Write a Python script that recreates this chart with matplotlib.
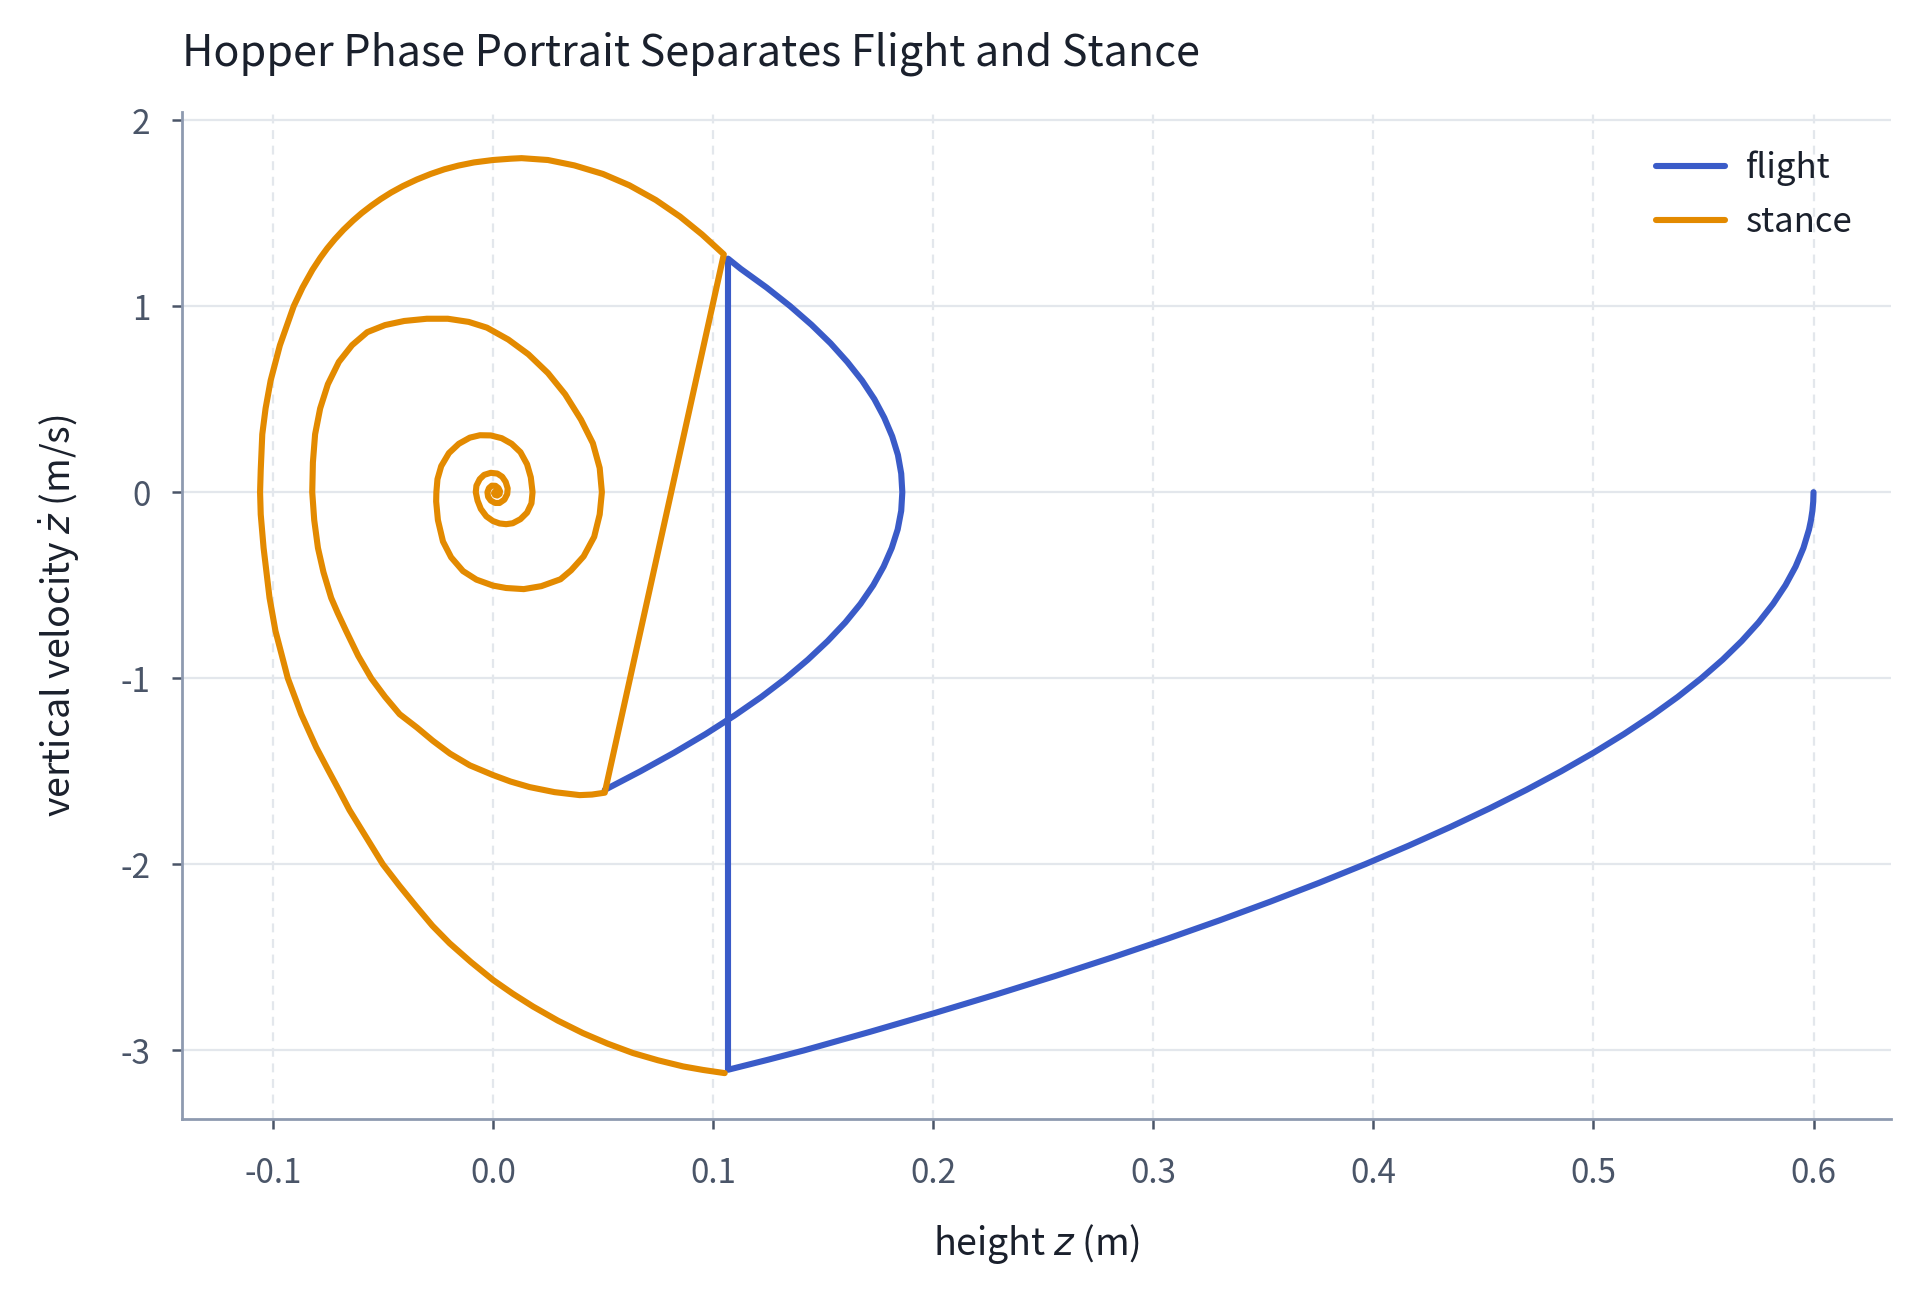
import matplotlib
matplotlib.use("Agg")
import matplotlib.pyplot as plt

# flight: drop from 0.6 m to touchdown, then the hop after liftoff
flight_z = [0.6000, 0.59987, 0.59949, 0.59885, 0.59796, 0.59541, 0.59185, 0.58726,
            0.58165, 0.57503, 0.56738, 0.55872, 0.54903, 0.53833, 0.52661, 0.51386,
            0.50010, 0.48532, 0.46952, 0.45270, 0.43486, 0.41600, 0.39613, 0.37523,
            0.35331, 0.33038, 0.30642, 0.28145, 0.25546, 0.22844, 0.20041, 0.17136,
            0.14128, 0.1250, 0.1068,
            0.1068, 0.1126, 0.1243, 0.1350, 0.1447, 0.1534, 0.1610, 0.1677, 0.1733,
            0.1778, 0.1814, 0.1840, 0.1855, 0.1860, 0.1855, 0.1839, 0.1812, 0.1775,
            0.1728, 0.1670, 0.1601, 0.1521, 0.1431, 0.1331, 0.1220, 0.1098, 0.0966,
            0.0823, 0.0670, 0.0508]
flight_v = [0.0, -0.05, -0.1, -0.15, -0.2, -0.3, -0.4, -0.5,
            -0.6, -0.7, -0.8, -0.9, -1.0, -1.1, -1.2, -1.3,
            -1.4, -1.5, -1.6, -1.7, -1.8, -1.9, -2.0, -2.1,
            -2.2, -2.3, -2.4, -2.5, -2.6, -2.7, -2.8, -2.9,
            -3.0, -3.05, -3.104,
            1.255, 1.2, 1.1, 1.0, 0.9, 0.8, 0.7, 0.6, 0.5,
            0.4, 0.3, 0.2, 0.1, 0.0, -0.1, -0.2, -0.3, -0.4,
            -0.5, -0.6, -0.7, -0.8, -0.9, -1.0, -1.1, -1.2, -1.3,
            -1.4, -1.5, -1.6]

# stance: first compression (outer loop), jump, second compression settling to rest
stance_z = [0.1053, 0.0955, 0.0864, 0.0750, 0.0636, 0.0520, 0.0409, 0.0295, 0.0182,
            0.0090, 0.0, -0.0100, -0.0197, -0.0275, -0.0348, -0.0425, -0.0500,
            -0.0578, -0.0652, -0.0700, -0.0750, -0.0803, -0.0871, -0.0932, -0.0988,
            -0.1015, -0.1042, -0.1055, -0.1058,
            -0.1055, -0.1048, -0.1033, -0.1010, -0.0968, -0.0905, -0.0865, -0.0820,
            -0.0784, -0.0753, -0.0718, -0.0679, -0.0635, -0.0596, -0.0552, -0.0510,
            -0.0463, -0.0409, -0.0346, -0.0283, -0.0221, -0.0157, -0.0086, 0.0,
            0.0080, 0.0130,
            0.0250, 0.0370, 0.0500, 0.0620, 0.0740, 0.0850, 0.0950, 0.1049,
            0.0508, 0.0450, 0.0394, 0.0280, 0.0167, 0.0080, 0.0, -0.0105, -0.0195,
            -0.0273, -0.0345, -0.0424, -0.0490, -0.0553, -0.0612, -0.0667, -0.0705,
            -0.0735, -0.0770, -0.0795, -0.0812, -0.0821,
            -0.0818, -0.0808, -0.0785, -0.0750, -0.0700, -0.0640, -0.0571, -0.0490,
            -0.0403, -0.0300, -0.0205, -0.0110, -0.0027, 0.0070, 0.0161, 0.0250,
            0.0328, 0.0400, 0.0454, 0.0485, 0.0495,
            0.0485, 0.0460, 0.0412, 0.0355, 0.0307, 0.0220, 0.0140, 0.0060, 0.0,
            -0.0075, -0.0136, -0.0190, -0.0227, -0.0250, -0.0258, -0.0257,
            -0.0252, -0.0235, -0.0200, -0.0155, -0.0105, -0.0059, -0.0010, 0.0040,
            0.0085, 0.0125, 0.0155, 0.0172, 0.0180,
            0.0175, 0.0155, 0.0125, 0.0090, 0.0060, 0.0030, 0.0, -0.0030, -0.0055,
            -0.0070, -0.0078,
            -0.0075, -0.0060, -0.0040, -0.0010, 0.0020, 0.0042, 0.0058, 0.0067,
            0.0065, 0.0052, 0.0030, 0.0010, -0.0010, -0.0022, -0.0025,
            -0.0018, -0.0005, 0.0012, 0.0025, 0.0032, 0.0030, 0.0020, 0.0010,
            0.0005, 0.0010, 0.0018]
stance_v = [-3.122, -3.105, -3.086, -3.053, -3.014, -2.963, -2.907, -2.84, -2.764,
            -2.695, -2.621, -2.525, -2.424, -2.33, -2.227, -2.115, -2.0,
            -1.85, -1.708, -1.60, -1.49, -1.371, -1.193, -1.0, -0.746,
            -0.568, -0.30, -0.12, 0.0,
            0.12, 0.311, 0.45, 0.6, 0.789, 1.0, 1.1, 1.195,
            1.26, 1.31, 1.36, 1.41, 1.46, 1.5, 1.54, 1.575,
            1.61, 1.645, 1.68, 1.71, 1.735, 1.755, 1.772, 1.785,
            1.792, 1.795,
            1.785, 1.756, 1.71, 1.649, 1.57, 1.481, 1.385, 1.278,
            -1.615, -1.625, -1.628, -1.612, -1.585, -1.555, -1.52, -1.468, -1.405,
            -1.336, -1.265, -1.193, -1.10, -1.0, -0.88, -0.746, -0.65,
            -0.568, -0.43, -0.30, -0.15, 0.0,
            0.16, 0.311, 0.45, 0.58, 0.70, 0.79, 0.86, 0.898,
            0.92, 0.932, 0.932, 0.915, 0.884, 0.82, 0.741, 0.64,
            0.526, 0.39, 0.263, 0.13, 0.0,
            -0.12, -0.24, -0.345, -0.42, -0.468, -0.505, -0.521, -0.515, -0.502,
            -0.47, -0.424, -0.35, -0.265, -0.15, -0.05, 0.0,
            0.07, 0.14, 0.21, 0.26, 0.293, 0.306, 0.305, 0.29,
            0.26, 0.215, 0.15, 0.08, 0.0,
            -0.06, -0.11, -0.145, -0.167, -0.172, -0.168, -0.155, -0.13, -0.09,
            -0.045, 0.0,
            0.035, 0.07, 0.093, 0.104, 0.100, 0.083, 0.055, 0.02,
            -0.01, -0.04, -0.058, -0.058, -0.045, -0.025, 0.0,
            0.022, 0.035, 0.034, 0.022, 0.005, -0.01, -0.018, -0.015,
            -0.005, 0.003, 0.0]

plt.rcParams["font.family"] = ["Noto Sans CJK KR", "DejaVu Sans"]
plt.rcParams["axes.unicode_minus"] = False

blue = "#3a5bc8"
orange = "#e38a00"
text_col = "#1a202c"
tick_col = "#4a5568"
spine_col = "#8e9ab0"

fig, ax = plt.subplots(figsize=(9.6, 6.46), dpi=200)
fig.subplots_adjust(left=0.095, right=0.985, bottom=0.134, top=0.913)

ax.plot(flight_z, flight_v, color=blue, lw=2.2, label="flight",
        solid_capstyle="round", solid_joinstyle="round")
ax.plot(stance_z, stance_v, color=orange, lw=2.2, label="stance",
        solid_capstyle="round", solid_joinstyle="round")

ax.grid(axis="y", color="#e3e7ec", lw=0.8, ls="-")
ax.grid(axis="x", color="#e3e7ec", lw=0.8, ls=(0, (4, 3)))
ax.set_axisbelow(True)

for s in ["top", "right"]:
    ax.spines[s].set_visible(False)
for s in ["left", "bottom"]:
    ax.spines[s].set_color(spine_col)
    ax.spines[s].set_linewidth(1.0)

ax.tick_params(colors=tick_col, labelsize=12, length=3.5, width=0.9)
ax.tick_params(axis="x", pad=10)
ax.tick_params(axis="y", pad=8)
ax.set_xticks([-0.1, 0.0, 0.1, 0.2, 0.3, 0.4, 0.5, 0.6])
ax.set_yticks([-3, -2, -1, 0, 1, 2])

ax.set_xlabel("height $z$ (m)", fontsize=13.5, color=text_col, labelpad=11)
ax.set_ylabel("vertical velocity $\\dot{z}$ (m/s)", fontsize=13.5, color=text_col, labelpad=14)
ax.set_title("Hopper Phase Portrait Separates Flight and Stance", loc="left",
             fontsize=15.5, color=text_col, pad=17)

leg = ax.legend(loc="upper right", frameon=False, fontsize=12.5, handlelength=2.0,
                labelspacing=0.55, borderaxespad=0.7, handletextpad=0.6)
for t in leg.get_texts():
    t.set_color(text_col)

fig.savefig("out.png", dpi=200)
